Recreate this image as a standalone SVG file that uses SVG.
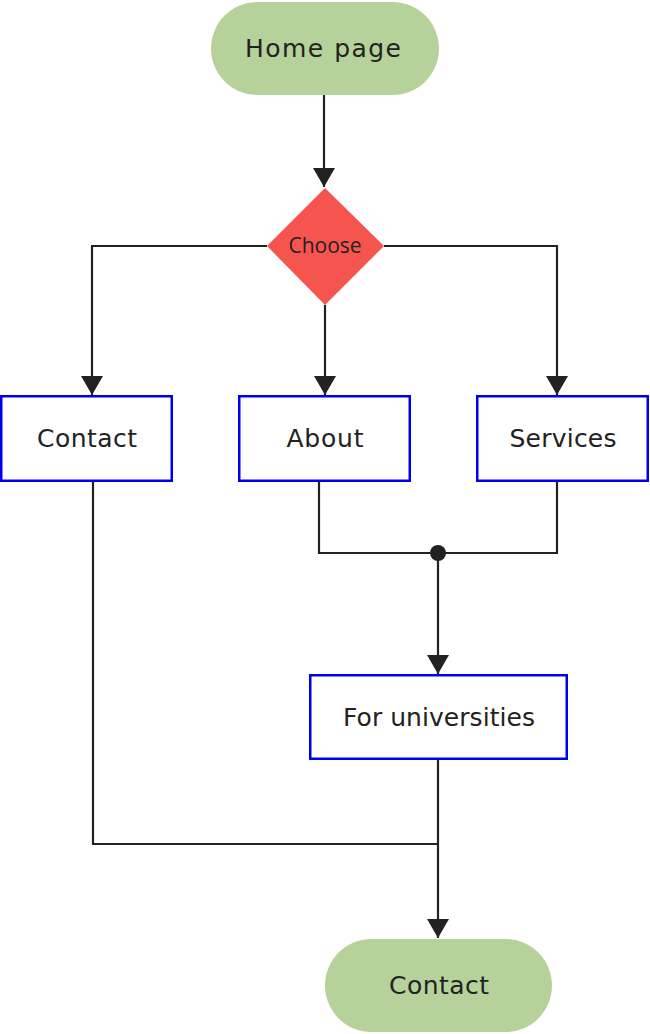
<svg xmlns="http://www.w3.org/2000/svg" width="650" height="1034" viewBox="0 0 650 1034">
<style>
.term{fill:#b6d29a}
.box{fill:#fff;stroke:#0000ee;stroke-width:2.5}
.lbl{font-family:"DejaVu Sans",sans-serif;font-size:25px;fill:#222;text-anchor:middle}
.ch{font-family:"Open Sans",sans-serif;font-size:21px;fill:#222;text-anchor:middle}
.ln{fill:none;stroke:#222;stroke-width:2.2}
</style>
<defs>
<marker id="ah" viewBox="0 0 19 22" refX="19" refY="11" markerWidth="19" markerHeight="22" markerUnits="userSpaceOnUse" orient="auto">
<path d="M0,0 L19,11 L0,22 Z" fill="#222"/>
</marker>
</defs>
<g id="connectors">
<path class="ln" d="M324,95 V187" marker-end="url(#ah)"/>
<path class="ln" d="M267,246 H92 V395" marker-end="url(#ah)"/>
<path class="ln" d="M325,305 V395" marker-end="url(#ah)"/>
<path class="ln" d="M384,246 H557 V395" marker-end="url(#ah)"/>
<path class="ln" d="M319,481 V553 H557 V481"/>
<path class="ln" d="M438,553 V674" marker-end="url(#ah)"/>
<circle cx="438" cy="553" r="8" fill="#222"/>
<path class="ln" d="M93,481 V844 H438"/>
<path class="ln" d="M438,759 V938" marker-end="url(#ah)"/>
</g>
<g id="home">
<rect class="term" x="211" y="2" width="228" height="93" rx="46.5"/>
<text class="lbl" x="323" y="57" textLength="156" lengthAdjust="spacing">Home page</text>
</g>
<g id="choose">
<path d="M325,188 L384,246 L325,305 L267,246 Z" fill="#f5544f"/>
<text class="ch" x="325" y="253">Choose</text>
</g>
<g id="contact1">
<rect class="box" x="1.25" y="396.25" width="170.5" height="84.5"/>
<text class="lbl" x="87" y="447" textLength="100" lengthAdjust="spacing">Contact</text>
</g>
<g id="about">
<rect class="box" x="239.25" y="396.25" width="170.5" height="84.5"/>
<text class="lbl" x="325" y="447" textLength="77" lengthAdjust="spacing">About</text>
</g>
<g id="services">
<rect class="box" x="477.25" y="396.25" width="170.5" height="84.5"/>
<text class="lbl" x="563" y="447" textLength="107" lengthAdjust="spacing">Services</text>
</g>
<g id="universities">
<rect class="box" x="310.25" y="675.25" width="256.5" height="83.5"/>
<text class="lbl" x="439" y="726" textLength="192" lengthAdjust="spacing">For universities</text>
</g>
<g id="contact2">
<rect class="term" x="325" y="939" width="227" height="93" rx="46.5"/>
<text class="lbl" x="439" y="994" textLength="100" lengthAdjust="spacing">Contact</text>
</g>
</svg>
